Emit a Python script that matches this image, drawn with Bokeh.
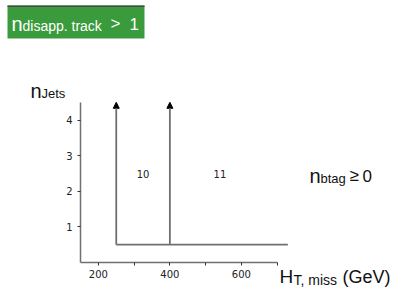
from bokeh.plotting import figure
from bokeh.models import (Range1d, FixedTicker, Label, BoxAnnotation, Arrow,
                          NormalHead, ColumnDataSource)
from bokeh.core.properties import value
from bokeh.embed import file_html
from bokeh.resources import INLINE

# ---- data ----
ht_boundaries = [250, 400]          # H_T,miss bin edges (GeV)
njets_low = [0.5, 0.5]
njets_high = [4.5, 4.5]
ht_line_end = 730
region_names = ["10", "11"]
region_ht = [325, 540]
region_njets = [2.5, 2.5]
x_ticks = [200, 300, 400, 500, 600, 700]
x_tick_labels = ["200", "", "400", "", "600", ""]
y_ticks = [1, 2, 3, 4]
y_tick_labels = ["1", "2", "3", "4"]

# ---- layout (frame = whole canvas, axes at fixed locations) ----
W, H = 393, 290
AX_X, AX_Y = 80, 262      # page px of the axis corner
XPX = 0.3575              # px per GeV
YPX = 35.6                # px per jet
x0 = 150

def dx(px):
    return x0 + (px - AX_X) / XPX

def dy(py):
    return (AX_Y - py) / YPX

p = figure(width=W, height=H, output_backend="svg", toolbar_location=None,
           x_range=Range1d(dx(0), dx(W)), y_range=Range1d(dy(H), dy(0)),
           min_border=0, min_border_left=0, min_border_right=0,
           min_border_top=0, min_border_bottom=0)
p.outline_line_color = None
p.grid.visible = False
p.background_fill_color = "white"
p.border_fill_color = "white"

axcol = "#707070"
for ax in (p.xaxis[0], p.yaxis[0]):
    ax.axis_line_color = axcol
    ax.axis_line_width = 1.5
    ax.major_tick_line_color = "#333333"
    ax.major_tick_out = 3
    ax.major_tick_in = 0
    ax.minor_tick_line_color = None
    ax.major_label_text_font = "DejaVu Sans"
    ax.major_label_text_font_size = "10px"
    ax.major_label_text_color = "#222222"
p.xaxis[0].fixed_location = 0
p.yaxis[0].fixed_location = x0
p.xaxis[0].bounds = (x0, 700)
p.yaxis[0].bounds = (0, 4.5)
p.xaxis[0].ticker = FixedTicker(ticks=x_ticks)
p.xaxis[0].major_label_overrides = {t: l for t, l in zip(x_ticks, x_tick_labels)}
p.xaxis[0].major_label_standoff = 4
p.yaxis[0].ticker = FixedTicker(ticks=y_ticks)
p.yaxis[0].major_label_overrides = {t: l for t, l in zip(y_ticks, y_tick_labels)}
p.yaxis[0].major_label_standoff = 5

# green header box with thin dark top edge
p.add_layout(BoxAnnotation(left=dx(7), right=dx(144), top=dy(5), bottom=dy(38),
                           fill_color="#399b3c", fill_alpha=1.0, line_color=None))
p.add_layout(BoxAnnotation(left=dx(7), right=dx(144), top=dy(5), bottom=dy(6.5),
                           fill_color="#4a4a4a", fill_alpha=1.0, line_color=None))

# bin boundaries
p.segment(x0=[ht_boundaries[0]], y0=[njets_low[0]], x1=[ht_line_end], y1=[njets_low[0]],
          line_color=axcol, line_width=1.8)
src = ColumnDataSource(dict(xs=ht_boundaries, ys=njets_low, xe=ht_boundaries, ye=njets_high))
p.add_layout(Arrow(source=src, x_start="xs", y_start="ys", x_end="xe", y_end="ye",
                   line_color=axcol, line_width=1.8,
                   end=NormalHead(size=6, fill_color="black", line_color="black", line_width=1)))

p.text(x=region_ht, y=region_njets, text=region_names, text_font=value("DejaVu Sans"),
       text_font_size="10px", text_align="center", text_baseline="middle", text_color="#222222")

def lab(txt, px, py, size, color="#111111"):
    p.add_layout(Label(x=dx(px), y=dy(py), text=txt, text_font="Liberation Sans",
                       text_font_size=f"{size}px", text_color=color,
                       text_baseline="alphabetic", text_align="left"))

# header text
lab("n", 11, 23, 20, "white")
lab("disapp. track", 22, 25, 14, "white")
lab(">", 110, 23, 17, "white")
lab("1", 129, 23, 17, "white")
# y label
lab("n", 30, 90, 20)
lab("Jets", 41, 93, 13)
# btag
lab("n", 309, 175, 20)
lab("btag", 320, 178, 13)
lab("\u2265", 349, 175, 17)
lab("0", 362, 175, 17)
# x label
lab("H", 279, 276, 19)
lab("T, miss", 293, 279, 14)
lab("(GeV)", 342, 276, 18)

open("out.html", "w").write(file_html(p, INLINE))
